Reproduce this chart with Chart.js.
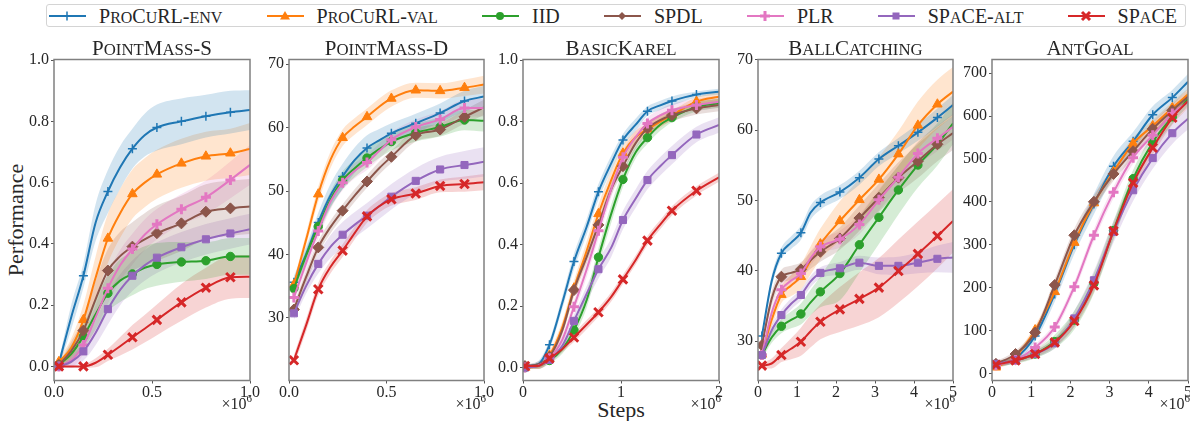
<!DOCTYPE html>
<html>
<head>
<meta charset="utf-8">
<script src="https://cdn.jsdelivr.net/npm/chart.js@4.4.0/dist/chart.umd.min.js"></script>
<style>
body{margin:0;width:1190px;height:421px;position:relative;overflow:hidden;background:#fff;font-family:'Liberation Serif',serif;color:#262626}
canvas{position:absolute;top:45px}
.s{font-size:.8em;text-transform:uppercase}
.title{position:absolute;top:38px;font-size:21px;text-align:center;white-space:nowrap;line-height:1}
.mult{position:absolute;top:394px;font-size:16px;line-height:1;white-space:nowrap;text-align:right}
.mult sup{font-size:11px;position:relative;top:-1px}
#legend{position:absolute;left:46px;top:4px;width:1140px;height:23px;box-sizing:border-box;border:1px solid #d4d4d4;border-radius:3px;display:flex;align-items:center;justify-content:space-between;padding:0 8px 0 2px}
.item{display:flex;align-items:center;gap:13px;font-size:20px;line-height:1;white-space:nowrap}
#ylab{position:absolute;left:16px;top:220px;font-size:22px;transform:translate(-50%,-50%) rotate(-90deg);white-space:nowrap;line-height:1}
#xlab{position:absolute;left:621px;top:399px;font-size:22px;transform:translateX(-50%);line-height:1}
</style>
</head>
<body>
<div id="legend"></div>
<div id="ylab">Performance</div>
<div id="xlab">Steps</div>
<script>
// series
const SERIES = ['ProCuRL-env','ProCuRL-val','IID','SPDL','PLR','SPaCE-alt','SPaCE'];
const COLORS = ['#1f77b4','#ff7f0e','#2ca02c','#8c564b','#e377c2','#9467bd','#d62728'];
const MARKERS = ['cross','triangle','circle','rectRot','cross','rect','crossRot'];
const MARK_R = [4.5,5.5,4.2,5.5,5,5,6];
const MARK_W = [1.5,1,1,1,3,1,3];

// PointMass-S
const pmsX = [0.025,0.0875,0.15,0.2125,0.275,0.3375,0.4,0.4625,0.525,0.65,0.775,0.9,1.0];
const pmsMarks = [0,2,4,6,8,9,10,11];
const pmsMean = [
  [0.01,0.16,0.296,0.47,0.571,0.65,0.711,0.755,0.78,0.80,0.817,0.83,0.837],
  [0.015,0.06,0.152,0.29,0.418,0.50,0.563,0.60,0.627,0.663,0.686,0.696,0.71],
  [0.005,0.04,0.098,0.17,0.239,0.28,0.302,0.322,0.333,0.341,0.345,0.359,0.359],
  [0.005,0.05,0.117,0.22,0.313,0.36,0.391,0.415,0.435,0.467,0.505,0.516,0.522],
  [0.0,0.02,0.07,0.16,0.255,0.33,0.383,0.43,0.464,0.513,0.552,0.609,0.658],
  [0.0,0.015,0.049,0.11,0.187,0.25,0.296,0.33,0.355,0.389,0.415,0.434,0.448],
  [0.0,0.0,0.0,0.012,0.038,0.066,0.095,0.123,0.152,0.209,0.257,0.291,0.293]
];
const pmsSpread = [
  [0.01,0.04,0.04,0.06,0.07,0.07,0.065,0.07,0.075,0.075,0.07,0.07,0.065],
  [0.01,0.03,0.05,0.07,0.08,0.08,0.08,0.08,0.08,0.08,0.08,0.08,0.085],
  [0.005,0.03,0.04,0.05,0.06,0.07,0.07,0.07,0.07,0.065,0.06,0.06,0.06],
  [0.005,0.03,0.04,0.06,0.07,0.08,0.08,0.085,0.09,0.09,0.09,0.09,0.09],
  [0.0,0.02,0.03,0.04,0.05,0.05,0.05,0.05,0.05,0.05,0.055,0.06,0.065],
  [0.0,0.02,0.03,0.04,0.05,0.05,0.05,0.05,0.05,0.05,0.05,0.05,0.05],
  [0.0,0.0,0.005,0.015,0.02,0.03,0.04,0.045,0.05,0.06,0.065,0.07,0.07]
];

// PointMass-D
const pmdX = [0.025,0.0875,0.15,0.2125,0.275,0.3375,0.4,0.4625,0.525,0.65,0.775,0.9,1.0];
const pmdMarks = [0,2,4,6,8,9,10,11];
const pmdMean = [
  [35.6,40.0,45.05,49.3,52.3,54.9,56.8,58.0,59.1,60.7,62.3,64.2,64.9],
  [35.2,42.3,49.5,54.9,58.4,60.2,61.7,63.3,64.6,65.9,65.8,66.3,66.8],
  [34.6,39.8,44.4,48.6,51.7,53.6,55.2,56.6,57.8,59.2,60.1,61.2,61.1],
  [31.3,36.4,41.1,44.3,46.9,49.3,51.5,53.6,55.4,58.8,59.7,61.7,63.2],
  [33.2,38.6,43.7,48.3,51.3,53.2,54.5,56.3,58.1,60.1,61.3,63.1,63.1],
  [30.7,35.0,38.5,41.2,43.1,44.7,46.1,47.6,49.1,51.6,53.4,54.1,54.6],
  [23.3,28.8,34.5,38.0,40.6,43.4,46.0,47.6,48.7,49.6,50.8,51.1,51.4]
];
const pmdSpread = [
  [1.0,1.2,1.5,1.8,2.0,2.0,2.0,1.8,1.6,1.5,1.5,1.6,1.7],
  [0.8,1.0,1.2,1.3,1.3,1.3,1.3,1.3,1.3,1.2,1.2,1.3,1.4],
  [0.8,1.0,1.2,1.3,1.4,1.4,1.4,1.4,1.4,1.4,1.5,1.6,1.7],
  [0.8,1.0,1.0,1.0,1.0,1.0,1.0,1.0,1.0,1.0,1.0,1.1,1.2],
  [0.8,1.0,1.2,1.2,1.2,1.2,1.2,1.2,1.2,1.2,1.3,1.3,1.4],
  [1.0,1.2,1.5,1.8,2.0,2.0,2.0,2.0,2.0,2.0,2.0,2.2,2.3],
  [0.8,1.0,1.0,1.0,1.0,1.0,1.0,1.0,1.0,1.0,1.0,1.2,1.3]
];

// BasicKarel
const bkX = [0.02,0.15,0.27,0.4,0.52,0.65,0.77,0.9,1.02,1.15,1.27,1.4,1.52,1.77,2.0];
const bkMarks = [0,2,4,6,8,10,12,13];
const bkMean = [
  [0.005,0.01,0.074,0.21,0.345,0.458,0.572,0.664,0.74,0.79,0.834,0.853,0.867,0.888,0.897],
  [0.0,0.005,0.04,0.13,0.258,0.38,0.5,0.61,0.697,0.75,0.775,0.80,0.821,0.865,0.881],
  [0.0,0.005,0.023,0.06,0.122,0.22,0.359,0.5,0.612,0.70,0.748,0.79,0.813,0.848,0.86],
  [0.005,0.01,0.035,0.12,0.252,0.36,0.464,0.58,0.655,0.73,0.778,0.805,0.821,0.843,0.854],
  [0.0,0.005,0.03,0.09,0.198,0.32,0.445,0.58,0.684,0.75,0.794,0.82,0.837,0.854,0.865],
  [0.0,0.005,0.025,0.07,0.152,0.24,0.32,0.39,0.48,0.55,0.61,0.655,0.691,0.758,0.789],
  [0.005,0.005,0.03,0.06,0.098,0.14,0.18,0.23,0.287,0.35,0.413,0.465,0.51,0.575,0.619]
];
const bkSpread = [
  [0.005,0.01,0.015,0.02,0.025,0.025,0.025,0.025,0.02,0.02,0.015,0.015,0.015,0.01,0.01],
  [0.005,0.01,0.015,0.02,0.025,0.03,0.03,0.03,0.025,0.02,0.02,0.02,0.015,0.015,0.015],
  [0.005,0.01,0.01,0.015,0.02,0.025,0.03,0.03,0.025,0.02,0.02,0.02,0.015,0.015,0.015],
  [0.005,0.01,0.01,0.015,0.02,0.02,0.02,0.02,0.02,0.02,0.02,0.02,0.02,0.02,0.02],
  [0.005,0.01,0.01,0.015,0.02,0.025,0.025,0.025,0.02,0.02,0.02,0.02,0.02,0.02,0.02],
  [0.005,0.01,0.01,0.015,0.02,0.025,0.03,0.03,0.03,0.03,0.03,0.03,0.03,0.025,0.025],
  [0.005,0.005,0.01,0.01,0.015,0.015,0.015,0.015,0.015,0.015,0.015,0.015,0.015,0.015,0.015]
];

// BallCatching
const bcX = [0.1,0.35,0.6,0.85,1.1,1.35,1.6,2.1,2.6,3.1,3.6,4.1,4.6,5.0];
const bcMarks = [0,2,4,6,7,8,9,10,11,12];
const bcMean = [
  [30.7,38.5,42.5,44.0,45.4,48.3,49.7,51.2,53.25,55.9,57.8,59.7,61.8,63.6],
  [28.1,33.0,36.6,37.9,39.15,41.5,43.8,47.1,50.1,53.0,56.6,60.7,63.7,65.5],
  [28.0,30.5,32.1,33.0,33.85,35.5,37.0,39.6,43.7,47.6,51.5,55.05,58.0,61.0],
  [29.4,36.0,39.15,39.7,40.2,41.5,42.7,44.6,47.5,50.4,53.25,55.6,58.0,59.6],
  [28.0,34.0,37.3,38.6,39.6,41.8,43.4,44.5,46.6,50.1,53.3,56.7,58.85,60.5],
  [28.0,31.5,33.7,35.3,36.55,38.5,39.7,40.35,41.15,40.7,40.7,41.15,41.7,41.9],
  [26.5,26.8,28.0,28.9,29.9,31.4,32.75,34.5,36.0,37.6,39.96,42.4,44.95,47.1]
];
const bcSpread = [
  [0.5,0.8,0.8,0.9,1.0,1.0,1.0,1.0,1.0,1.0,1.1,1.2,1.3,1.4],
  [0.5,1.0,1.2,1.5,1.8,2.0,2.2,2.8,3.0,3.2,3.3,3.4,3.5,3.5],
  [0.5,0.8,1.0,1.2,1.5,1.8,2.2,3.8,4.0,3.8,3.5,3.2,3.0,3.0],
  [0.5,1.0,1.0,1.0,1.0,1.2,1.4,1.6,1.8,2.0,2.2,2.4,2.4,2.4],
  [0.5,0.8,0.8,0.8,0.8,1.0,1.0,1.2,1.4,1.5,1.6,1.7,1.8,1.8],
  [0.5,0.8,0.8,0.8,0.8,0.8,0.8,0.9,1.0,1.2,1.3,1.5,1.9,2.2],
  [0.4,0.7,1.0,1.5,2.0,2.3,2.5,3.2,3.8,4.2,4.5,4.6,4.6,4.5]
];

// AntGoal
const agX = [0.1,0.6,1.1,1.6,2.1,2.6,3.1,3.6,4.1,4.6,5.0];
const agMarks = [0,1,2,3,4,5,6,7,8,9];
const agMean = [
  [19,35,87,185,300,395,483,541,603,643,680],
  [14,39,101,190,305,397,470,536,577,619,650],
  [20,30,45,74,124,210,333,454,539,598,640],
  [22,45,95,206,322,400,465,518,570,613,645],
  [19,31,60,108,202,322,422,503,555,606,633],
  [22,31,45,70,128,217,330,427,502,560,594],
  [20,30,45,72,122,205,332,444,526,596,635]
];
const agSpread = [
  [5,8,12,18,22,24,24,22,20,18,18],
  [5,8,10,12,14,14,14,14,14,14,14],
  [5,8,10,16,22,24,22,20,18,16,16],
  [5,8,10,14,16,16,16,16,15,15,15],
  [5,6,8,10,12,14,14,14,14,14,14],
  [5,6,8,12,18,22,25,25,25,25,25],
  [5,6,8,10,14,16,16,16,16,16,16]
];

// axes
const TITLES = ['PointMass-S','PointMass-D','BasicKarel','BallCatching','AntGoal'];
const xTicks = [[0,0.5,1],[0,0.5,1],[0,1,2],[0,1,2,3,4,5],[0,1,2,3,4,5]];
const xTickLabels = [['0.0','0.5','1.0'],['0.0','0.5','1.0'],['0','1','2'],['0','1','2','3','4','5'],['0','1','2','3','4','5']];
const yTicks = [[0,0.2,0.4,0.6,0.8,1.0],[30,40,50,60,70],[0,0.2,0.4,0.6,0.8,1.0],[30,40,50,60,70],[0,100,200,300,400,500,600,700]];
const yTickLabels = [['0.0','0.2','0.4','0.6','0.8','1.0'],['30','40','50','60','70'],['0.0','0.2','0.4','0.6','0.8','1.0'],['30','40','50','60','70'],['0','100','200','300','400','500','600','700']];
const yRange = [[-0.046,1.002],[20.1,70.75],[-0.042,1.002],[24.38,70.07],[-16.8,731.9]];

const panels = [
  {x:pmsX, mean:pmsMean, spread:pmsSpread, marks:pmsMarks},
  {x:pmdX, mean:pmdMean, spread:pmdSpread, marks:pmdMarks},
  {x:bkX, mean:bkMean, spread:bkSpread, marks:bkMarks},
  {x:bcX, mean:bcMean, spread:bcSpread, marks:bcMarks},
  {x:agX, mean:agMean, spread:agSpread, marks:agMarks}
];

// plot boxes on the page
const plotL = [54,289,523,758,992];
const plotR = [250,484,719,953,1188];
const plotT = 59.5, plotB = 380.5, cvTop = 45, cvH = 370, yW = 50;

function sc(t){ return t.replace(/[a-z]+/g, m => '<span class="s">'+m+'</span>'); }

function rgba(hex,a){
  const n=parseInt(hex.slice(1),16);
  return `rgba(${n>>16},${(n>>8)&255},${n&255},${a})`;
}

const boxPlugin = {
  id:'box',
  afterDatasetsDraw(chart){
    const a=chart.chartArea, c=chart.ctx;
    c.save();
    c.strokeStyle='#808080';
    c.lineWidth=1.5;
    c.strokeRect(a.left,a.top,a.right-a.left,a.bottom-a.top);
    c.restore();
  }
};

panels.forEach((p,i)=>{
  const rp = Math.min(14, 1190-plotR[i]);
  const w = plotR[i]-plotL[i]+yW+rp;
  const cv = document.createElement('canvas');
  cv.width = w; cv.height = cvH;
  cv.style.left = (plotL[i]-yW)+'px';
  cv.style.width = w+'px'; cv.style.height = cvH+'px';
  document.body.appendChild(cv);

  const t = document.createElement('div');
  t.className='title';
  t.style.left=plotL[i]+'px';
  t.style.width=(plotR[i]-plotL[i])+'px';
  t.innerHTML=sc(TITLES[i]);
  document.body.appendChild(t);

  const m = document.createElement('div');
  m.className='mult';
  m.style.right=(1190-plotR[i]-2)+'px';
  m.innerHTML='×10<sup>6</sup>';
  document.body.appendChild(m);

  const datasets=[];
  SERIES.forEach((name,s)=>{
    const lo = p.x.map((x,k)=>({x, y:p.mean[s][k]-p.spread[s][k]}));
    const hi = p.x.map((x,k)=>({x, y:p.mean[s][k]+p.spread[s][k]}));
    const mid = p.x.map((x,k)=>({x, y:p.mean[s][k]}));
    const band = {borderWidth:0, borderColor:'rgba(0,0,0,0)', pointRadius:0, cubicInterpolationMode:'monotone', order:10};
    datasets.push(Object.assign({data:lo, fill:false}, band));
    datasets.push(Object.assign({data:hi, fill:'-1', backgroundColor:rgba(COLORS[s],0.2)}, band));
    datasets.push({
      label:name, data:mid, borderColor:COLORS[s], backgroundColor:COLORS[s],
      borderWidth:2, cubicInterpolationMode:'monotone', fill:false, order:-s,
      pointStyle:MARKERS[s], pointBorderColor:COLORS[s], pointBackgroundColor:COLORS[s],
      pointBorderWidth:MARK_W[s],
      pointRadius:ctx=>p.marks.includes(ctx.dataIndex)?MARK_R[s]:0
    });
  });

  const tickFont={family:'Liberation Serif', size:16};
  new Chart(cv,{
    type:'line',
    data:{datasets},
    options:{
      responsive:false, animation:false, events:[], devicePixelRatio:1,
      layout:{autoPadding:false, padding:{left:0,right:rp,top:plotT-cvTop,bottom:0}},
      plugins:{legend:{display:false}, tooltip:{enabled:false}},
      scales:{
        x:{
          type:'linear', min:0, max:xTicks[i][xTicks[i].length-1],
          border:{display:false},
          grid:{drawOnChartArea:false, drawTicks:true, tickLength:3, tickColor:'#555'},
          ticks:{font:tickFont, color:'#262626', padding:0, maxRotation:0, autoSkip:false,
            callback:(v,k)=>xTickLabels[i][k]},
          afterBuildTicks:sc=>{sc.ticks=xTicks[i].map(v=>({value:v}));},
          afterFit:sc=>{sc.height=cvTop+cvH-plotB; sc.paddingLeft=0; sc.paddingRight=0;}
        },
        y:{
          type:'linear', min:yRange[i][0], max:yRange[i][1],
          border:{display:false},
          grid:{drawOnChartArea:false, drawTicks:true, tickLength:3, tickColor:'#555'},
          ticks:{font:tickFont, color:'#262626', padding:2, autoSkip:false,
            callback:(v,k)=>yTickLabels[i][k]},
          afterBuildTicks:sc=>{sc.ticks=yTicks[i].map(v=>({value:v}));},
          afterFit:sc=>{sc.width=yW; sc.paddingTop=0; sc.paddingBottom=0;}
        }
      }
    },
    plugins:[boxPlugin]
  });
});

// legend
function handle(s){
  const c=COLORS[s], cx=18, cy=7;
  let mk='';
  switch(MARKERS[s]){
    case 'cross': {
      const r=MARK_R[s];
      mk=`<path d="M${cx-r} ${cy}H${cx+r}M${cx} ${cy-r}V${cy+r}" stroke="${c}" stroke-width="${MARK_W[s]}"/>`; break;
    }
    case 'triangle': mk=`<polygon points="${cx},${cy-5} ${cx+5},${cy+3.5} ${cx-5},${cy+3.5}" fill="${c}"/>`; break;
    case 'circle': mk=`<circle cx="${cx}" cy="${cy}" r="4" fill="${c}"/>`; break;
    case 'rectRot': mk=`<polygon points="${cx},${cy-4} ${cx+4},${cy} ${cx},${cy+4} ${cx-4},${cy}" fill="${c}"/>`; break;
    case 'rect': mk=`<rect x="${cx-3.5}" y="${cy-3.5}" width="7" height="7" fill="${c}"/>`; break;
    case 'crossRot': mk=`<path d="M${cx-4} ${cy-4}L${cx+4} ${cy+4}M${cx+4} ${cy-4}L${cx-4} ${cy+4}" stroke="${c}" stroke-width="3"/>`; break;
  }
  return `<svg width="37" height="14"><line x1="0" y1="${cy}" x2="37" y2="${cy}" stroke="${c}" stroke-width="2"/>${mk}</svg>`;
}
const leg=document.getElementById('legend');
SERIES.forEach((name,s)=>{
  const d=document.createElement('div');
  d.className='item';
  d.innerHTML=handle(s)+'<span>'+sc(name)+'</span>';
  leg.appendChild(d);
});
</script>
</body>
</html>
